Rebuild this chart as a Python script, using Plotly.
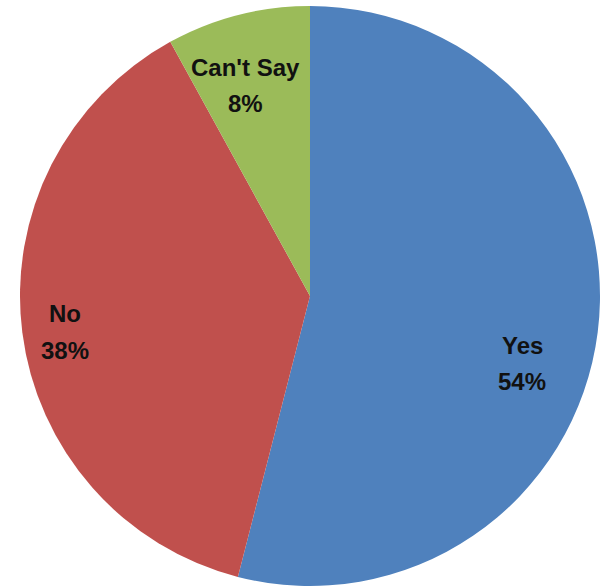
import plotly.graph_objects as go

# Survey responses
labels = ["Yes", "No", "Can't Say"]
shares = [54, 38, 8]
colors = ["#4F81BD", "#C0504D", "#9BBB59"]

# Label anchor points (pixels from top-left) for each slice: name line, percent line
name_pos = [(522, 345), (65, 313), (245, 68)]
pct_pos = [(522, 382), (65, 350), (245, 103)]

W, H = 610, 587

fig = go.Figure(go.Pie(
    labels=labels,
    values=shares,
    marker=dict(colors=colors, line=dict(width=0)),
    sort=False,
    direction="clockwise",
    rotation=0,
    textinfo="none",
    hoverinfo="label+percent",
    domain=dict(x=[20 / W, 600 / W], y=[1 / H, 581 / H]),
    showlegend=False,
))

total = sum(shares)
font = dict(family="Liberation Sans, Arial, sans-serif", size=24, color="#111111")
annotations = []
for lab, val, (nx, ny), (px, py) in zip(labels, shares, name_pos, pct_pos):
    for text, (x, y) in ((f"<b>{lab}</b>", (nx, ny)),
                         (f"<b>{round(val / total * 100)}%</b>", (px, py))):
        annotations.append(dict(x=x / W, y=1 - y / H, xref="paper", yref="paper",
                                xanchor="center", yanchor="middle",
                                text=text, showarrow=False, font=font))

fig.update_layout(
    width=W, height=H,
    margin=dict(l=0, r=0, t=0, b=0),
    paper_bgcolor="white",
    annotations=annotations,
)

fig.write_html("out.html")
